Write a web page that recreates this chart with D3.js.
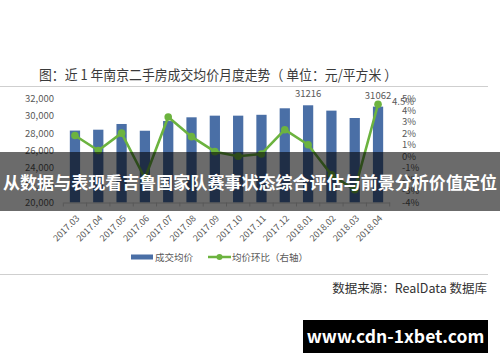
<!DOCTYPE html>
<html><head><meta charset="utf-8">
<script src="https://cdn.jsdelivr.net/npm/d3@7"></script>
<style>
html,body{margin:0;padding:0;background:#fff;}
svg{display:block;}
text{font-family:"Noto Sans CJK SC","Noto Sans",sans-serif;}
</style></head>
<body>
<svg id="c" width="500" height="362"></svg>
<script>
const months = ["2017.03","2017.04","2017.05","2017.06","2017.07","2017.08","2017.09","2017.10","2017.11","2017.12","2018.01","2018.02","2018.03","2018.04"];
const prices = [28300, 28400, 29060, 28280, 29400, 29830, 30020, 30020, 30120, 30870, 31216, 30600, 29750, 31062];
const ratios = [1.8, 0.5, 2.0, -1.9, 3.4, 1.7, 0.4, 0.0, 0.2, 2.3, 1.0, -1.6, -2.9, 4.5];
const leftTicks = [20000, 22000, 24000, 26000, 28000, 30000, 32000];
const rightTicks = [-4, -3, -2, -1, 0, 1, 2, 3, 4, 5];
const priceLabels = [{i:10, text:"31216"}, {i:13, text:"31062"}];
const ratioLabels = [{i:13, text:"4.5%"}];
const titleText = "图：近 1 年南京二手房成交均价月度走势（ 单位：元/平方米 ）";
const legendItems = ["成交均价", "均价环比（右轴）"];
const sourceText = "数据来源：RealData 数据库";
const bannerText = "从数据与表现看吉鲁国家队赛事状态综合评估与前景分析价值定位";
const watermark = "www.cdn-1xbet.com";

const svg = d3.select("#c");
const barColor = "#4a6fa6", lineColor = "#6cb33f", txt = "#595959";

const x = d3.scaleBand().domain(months).range([63.3, 389.7]).paddingInner(0.56).paddingOuter(0.28);
const yL = d3.scaleLinear().domain([20000, 32000]).range([202.5, 98.5]);
const yR = d3.scaleLinear().domain([-4, 5]).range([202.5, 98.5]);

// title
svg.append("text").attr("x", 39).attr("y", 80).attr("font-size", 14).attr("fill", "#3a3a3a")
  .attr("textLength", 358).attr("lengthAdjust", "spacingAndGlyphs").text(titleText);
svg.append("line").attr("x1", 0).attr("x2", 488).attr("y1", 86.5).attr("y2", 86.5).attr("stroke", "#cfcfcf");

// bars
svg.append("g").selectAll("rect").data(prices).join("rect")
  .attr("x", (d,i) => x(months[i])).attr("width", x.bandwidth())
  .attr("y", d => yL(d)).attr("height", d => yL(20000) - yL(d)).attr("fill", barColor);

// x axis
const xa = svg.append("g").attr("transform", "translate(0,202.5)")
  .call(d3.axisBottom(x).tickSize(0).tickFormat(""));
xa.select(".domain").attr("stroke", "#d0d0d0");
const step = x.step();
svg.append("g").selectAll("line").data(d3.range(months.length + 1)).join("line")
  .attr("x1", i => 63.3 + i*step).attr("x2", i => 63.3 + i*step)
  .attr("y1", 202.5).attr("y2", 206.5).attr("stroke", "#d0d0d0");

// left axis
const la = svg.append("g").attr("transform", "translate(57,0)")
  .call(d3.axisLeft(yL).tickValues(leftTicks).tickFormat(d3.format(",")).tickSize(0));
la.select(".domain").remove();
la.selectAll("text").attr("font-size", 9.5).attr("fill", txt).attr("font-family", "'Noto Sans CJK SC','Noto Sans',sans-serif");

// right axis
const ra = svg.append("g").attr("transform", "translate(399,0)")
  .call(d3.axisRight(yR).tickValues(rightTicks).tickFormat(d => d + "%").tickSize(0));
ra.select(".domain").remove();
ra.selectAll("text").attr("font-size", 9.5).attr("fill", txt).attr("font-family", "'Noto Sans CJK SC','Noto Sans',sans-serif");

// line
const cx = i => x(months[i]) + x.bandwidth()/2;
svg.append("path").datum(ratios)
  .attr("d", d3.line().x((d,i) => cx(i)).y(d => yR(d)))
  .attr("fill", "none").attr("stroke", lineColor).attr("stroke-width", 2.6).attr("stroke-linejoin", "round");
svg.append("g").selectAll("circle").data(ratios).join("circle")
  .attr("cx", (d,i) => cx(i)).attr("cy", d => yR(d)).attr("r", 3.8).attr("fill", lineColor);

// data labels
svg.append("g").selectAll("text").data(priceLabels).join("text")
  .attr("x", d => cx(d.i)).attr("y", d => yL(prices[d.i]) - 8)
  .attr("text-anchor", "middle").attr("font-size", 9.5).attr("fill", txt).text(d => d.text);
svg.append("g").selectAll("text").data(ratioLabels).join("text")
  .attr("x", d => cx(d.i) + 14).attr("y", d => yR(ratios[d.i]) + 1)
  .attr("font-size", 9.5).attr("fill", txt).text(d => d.text);

// banner overlay
svg.append("rect").attr("x", 0).attr("y", 152).attr("width", 500).attr("height", 59).attr("fill", "rgba(0,0,0,0.58)");
svg.append("text").attr("x", 3).attr("y", 189).attr("font-size", 17).attr("font-weight", "bold")
  .attr("fill", "#fff").attr("textLength", 494).attr("lengthAdjust", "spacingAndGlyphs").text(bannerText);

// x tick labels (below banner)
svg.append("g").selectAll("text").data(months).join("text")
  .attr("transform", d => `translate(${x(d) + x.bandwidth()/2 + 5},${219}) rotate(-45)`)
  .attr("text-anchor", "end").attr("font-size", 9).attr("fill", txt).text(d => d);

// legend
const lg = svg.append("g");
lg.append("rect").attr("x", 131).attr("y", 254.5).attr("width", 22).attr("height", 5).attr("fill", barColor);
lg.append("text").attr("x", 155).attr("y", 261).attr("font-size", 9.5).attr("fill", txt).text(legendItems[0]);
lg.append("line").attr("x1", 208).attr("x2", 231).attr("y1", 257).attr("y2", 257).attr("stroke", lineColor).attr("stroke-width", 2.5);
lg.append("circle").attr("cx", 219.5).attr("cy", 257).attr("r", 3).attr("fill", lineColor);
lg.append("text").attr("x", 232).attr("y", 261).attr("font-size", 9.5).attr("fill", txt).text(legendItems[1]);

svg.append("line").attr("x1", 0).attr("x2", 488).attr("y1", 274.5).attr("y2", 274.5).attr("stroke", "#cfcfcf");
svg.append("text").attr("x", 487).attr("y", 293).attr("text-anchor", "end").attr("font-size", 12.5)
  .attr("fill", "#333").text(sourceText);

// watermark box
svg.append("rect").attr("x", 303).attr("y", 320).attr("width", 185).attr("height", 33).attr("fill", "#000");
svg.append("text").attr("x", 395.5).attr("y", 342.5).attr("text-anchor", "middle").attr("font-size", 17.5)
  .attr("font-weight", "bold").attr("fill", "#fff").attr("font-family", "'Open Sans','Noto Sans',sans-serif")
  .text(watermark);
</script>
</body></html>
